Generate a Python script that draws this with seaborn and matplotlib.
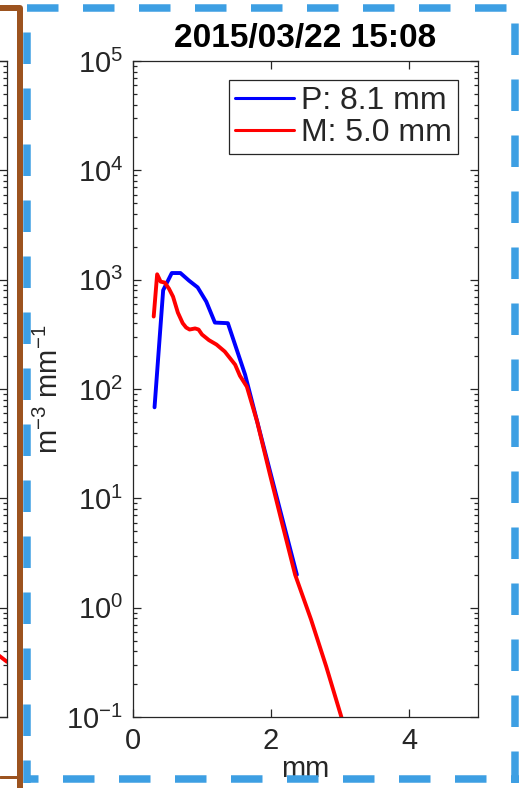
import matplotlib
matplotlib.use("Agg")
import matplotlib.pyplot as plt
import seaborn as sns
import pandas as pd
from matplotlib.lines import Line2D
from matplotlib.ticker import FixedLocator, NullFormatter, LogFormatterSciNotation

# ---------------- data ----------------
title_text = "2015/03/22 15:08"
p_label = "P: 8.1 mm"
m_label = "M: 5.0 mm"
x_label = "mm"
y_label = r"m$^{\mathdefault{-3}}$ mm$^{\mathdefault{-1}}$"

p_diam = [0.312, 0.437, 0.562, 0.687, 0.812, 0.937, 1.062, 1.187, 1.375, 1.625, 1.875, 2.125, 2.375]
p_conc = [68, 800, 1150, 1150, 980, 850, 630, 405, 400, 135, 33, 8.1, 2.0]

m_diam = [0.30, 0.35, 0.40, 0.46, 0.52, 0.58, 0.65, 0.72, 0.77, 0.82, 0.90, 0.95, 1.00,
          1.10, 1.21, 1.33, 1.48, 1.55, 1.65, 1.80, 1.98, 2.15, 2.35, 2.58, 2.80, 3.02]
m_conc = [460, 1120, 960, 940, 830, 700, 500, 400, 365, 350, 358, 350, 315,
          280, 255, 220, 167, 132, 105, 50, 17, 6.3, 2.0, 0.78, 0.29, 0.10]

# neighbouring (cropped) panel on the left
left_diam = [4.8, 5.0]
left_conc = [0.40, 0.32]

x_ticks = [0, 2, 4]
y_decades = [-1, 0, 1, 2, 3, 4, 5]
x_lim = (0, 5)
y_lim = (0.1, 1e5)

# ---------------- style ----------------
sns.set_theme(style="ticks")
plt.rcParams["font.family"] = ["Liberation Sans", "DejaVu Sans"]
plt.rcParams["mathtext.fontset"] = "custom"
plt.rcParams["mathtext.rm"] = "Liberation Sans"
plt.rcParams["mathtext.it"] = "Liberation Sans:italic"
plt.rcParams["mathtext.bf"] = "Liberation Sans:bold"
plt.rcParams["axes.unicode_minus"] = False
plt.rcParams["lines.scale_dashes"] = False

W, H = 520, 788
fig = plt.figure(figsize=(W / 100, H / 100), dpi=100)
fig.patch.set_facecolor("white")

def fx(x):
    return x / W

def fy(y):
    return 1 - y / H

AX_L, AX_R, AX_T, AX_B = 133, 478, 61, 717
ax_w = (AX_R - AX_L) / W
ax_h = (AX_B - AX_T) / H
ax_bottom = 1 - AX_B / H

spine_col = "#262626"
lw_data = 2.8

major_y = [10.0 ** d for d in y_decades]
minor_y = [m * 10.0 ** d for d in y_decades[:-1] for m in range(2, 10)]


def style_axes(a):
    a.set_xscale("linear")
    a.set_yscale("log")
    a.set_xlim(*x_lim)
    a.set_ylim(*y_lim)
    a.set_xticks(x_ticks)
    a.yaxis.set_major_locator(FixedLocator(major_y))
    a.yaxis.set_minor_locator(FixedLocator(minor_y))
    a.yaxis.set_minor_formatter(NullFormatter())
    a.yaxis.set_major_formatter(LogFormatterSciNotation())
    for s in a.spines.values():
        s.set_visible(True)
        s.set_color(spine_col)
        s.set_linewidth(0.9)
    a.tick_params(which="both", direction="in", top=True, right=True,
                  color=spine_col, width=0.9)
    a.tick_params(which="major", length=5.5)
    a.tick_params(which="minor", length=2.8)
    a.tick_params(axis="x", which="minor", bottom=False, top=False)
    a.set_facecolor("white")
    a.grid(False)


# left cropped panel
axL = fig.add_axes([fx(7 - (AX_R - AX_L)), ax_bottom, ax_w, ax_h])
style_axes(axL)
sns.lineplot(x=left_diam, y=left_conc, color="red", linewidth=lw_data, ax=axL,
             sort=False, estimator=None, legend=False)
axL.tick_params(which="both", labelleft=False, labelbottom=False)
axL.set_xlabel("")
axL.set_ylabel("")
axL.xaxis.label.set_visible(False)
axL.yaxis.label.set_visible(False)

# main panel
ax = fig.add_axes([fx(AX_L), ax_bottom, ax_w, ax_h])
style_axes(ax)
df_p = pd.DataFrame({"d": p_diam, "n": p_conc})
df_m = pd.DataFrame({"d": m_diam, "n": m_conc})
sns.lineplot(data=df_p, x="d", y="n", color="blue", linewidth=lw_data, ax=ax,
             sort=False, estimator=None, label=p_label)
sns.lineplot(data=df_m, x="d", y="n", color="red", linewidth=lw_data, ax=ax,
             sort=False, estimator=None, label=m_label)

ax.tick_params(which="major", labelsize=21, labelcolor=spine_col, pad=7)
ax.set_title(title_text, fontsize=24, fontweight="bold", color="black", pad=10)
ax.set_xlabel(x_label, fontsize=21, color=spine_col, labelpad=0)
ax.set_ylabel(y_label, fontsize=21, color=spine_col, labelpad=2)

leg = ax.legend(loc="upper right", bbox_to_anchor=(0.942, 0.971), borderaxespad=0,
                fontsize=23, frameon=True, fancybox=False, shadow=False,
                handlelength=1.85, handletextpad=0.2, labelspacing=0.05,
                borderpad=0.2)
leg.get_frame().set_edgecolor(spine_col)
leg.get_frame().set_linewidth(0.9)
leg.get_frame().set_facecolor("white")
leg.get_frame().set_alpha(1)
for h in leg.get_lines():
    h.set_linewidth(2.2)

# ---------------- decorative frames ----------------
px2pt = 72 / 100
brown = "#9c531f"
fig.add_artist(Line2D([fx(0), fx(20), fx(20)], [fy(7.5), fy(7.5), fy(792)],
                      color=brown, linewidth=6 * px2pt, solid_joinstyle="round",
                      solid_capstyle="butt", zorder=5))
fig.add_artist(Line2D([fx(0), fx(20)], [fy(777), fy(777)],
                      color=brown, linewidth=3 * px2pt, zorder=5))

blue_c = "#3d9fe3"
dash = (31.5 * px2pt, 24.5 * px2pt)
blw = 7.5 * px2pt
def dashed(xs, ys, off):
    fig.add_artist(Line2D([fx(v) for v in xs], [fy(v) for v in ys], color=blue_c,
                          linewidth=blw, linestyle=(off * px2pt, dash),
                          dash_capstyle="butt", zorder=6))

dashed([27, 519], [7.5, 7.5], 0)
dashed([27, 27], [7.5, 783], 31.5)
dashed([515, 515], [7.5, 783], 40.5)
dashed([27, 519], [779, 779], 20)

fig.savefig("out.png", dpi=100)
